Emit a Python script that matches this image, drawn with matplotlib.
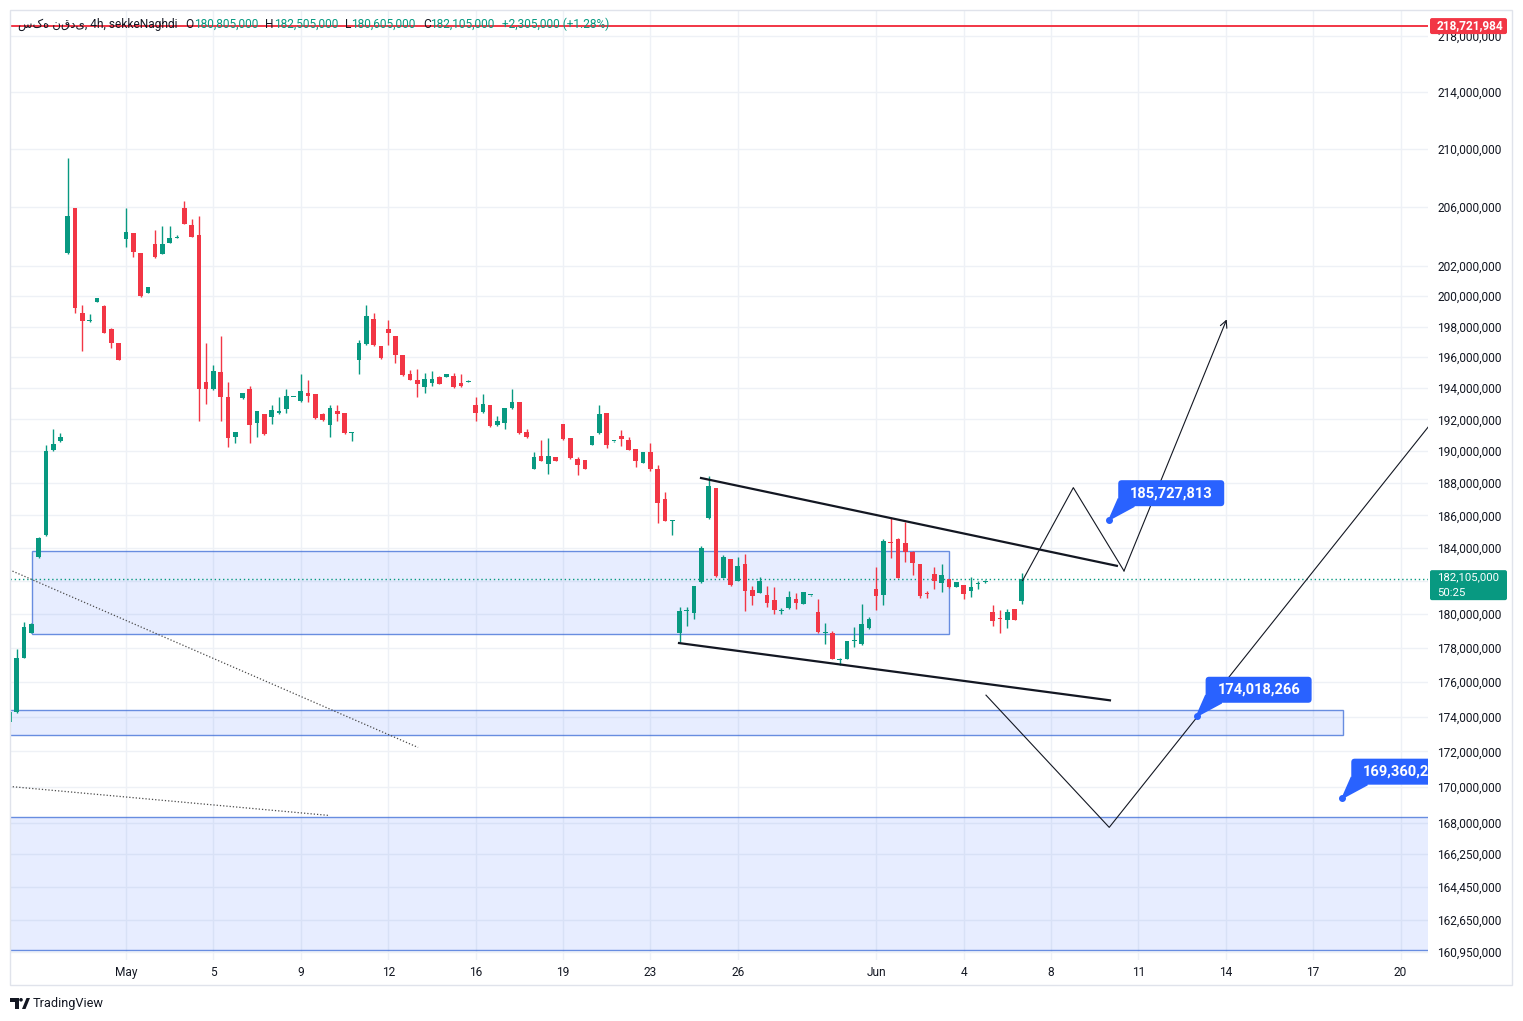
import matplotlib.pyplot as plt
import matplotlib.patches as mpatches
import matplotlib.transforms as mtransforms
from matplotlib.ticker import NullLocator
import numpy as np

plt.rcParams['font.family'] = ['Roboto', 'DejaVu Sans']

W, H = 1523, 1021
GREEN = '#089981'
RED = '#f23645'
BLUE = '#2962ff'
INK = '#131722'
PIX = mtransforms.IdentityTransform()

# 4h candles, prices in millions, bar index 0..139
opens = [173.71, 174.24, 177.41, 178.91, 183.45, 184.79, 190.06, 190.64, 202.85, 205.93,
         198.87, 198.35, 199.62, 199.37, 197.87, 196.90, 203.83, 204.24, 202.88, 200.20,
         203.49, 202.81, 203.56, 203.88, 205.93, 204.78, 204.10, 194.39, 193.94, 195.03,
         193.42, 190.88, 193.35, 193.94, 191.75, 192.32, 192.13, 192.39, 192.65, 193.40,
         193.16, 193.68, 193.61, 192.32, 191.63, 192.52, 192.39, 191.12, 195.81, 196.84,
         198.47, 196.71, 197.87, 197.35, 196.13, 194.90, 194.52, 194.06, 194.32, 194.71,
         194.71, 194.77, 194.32, 194.38, 192.90, 192.45, 192.90, 191.63, 191.75, 192.71,
         193.10, 191.19, 188.88, 189.69, 189.16, 189.63, 191.69, 190.81, 189.50, 189.44,
         190.38, 191.13, 192.39, 190.62, 190.94, 190.69, 190.13, 189.25, 189.94, 188.88,
         187.00, 185.63, 178.88, 180.17, 180.09, 181.91, 185.85, 187.69, 182.18, 183.33,
         182.00, 183.03, 181.45, 181.27, 181.15, 180.85, 180.17, 180.36, 180.94, 180.61,
         181.14, 180.12, 178.87, 178.88, 177.28, 177.35, 178.40, 178.24, 179.18, 181.50,
         181.15, 184.36, 184.55, 184.30, 183.76, 183.03, 181.22, 182.42, 181.88, 182.12,
         181.64, 181.76, 181.39, 181.81, 181.93, 180.12, 179.72, 179.65, 180.30, 180.805]
highs = [174.40, 177.94, 179.53, 179.45, 184.65, 190.41, 191.38, 191.16, 209.38, 205.95,
         199.40, 198.82, 199.90, 199.40, 197.90, 196.92, 205.93, 204.26, 202.90, 200.62,
         204.44, 204.71, 204.71, 204.10, 206.41, 205.19, 205.39, 196.90, 195.48, 197.35,
         194.39, 191.20, 193.70, 194.13, 192.55, 192.35, 192.90, 193.42, 193.94, 193.44,
         194.90, 194.52, 193.63, 192.40, 192.90, 192.90, 192.40, 191.19, 197.10, 199.40,
         198.87, 196.73, 198.40, 197.40, 196.15, 195.16, 195.23, 194.97, 195.10, 194.75,
         194.92, 195.00, 194.90, 194.52, 193.42, 193.61, 192.92, 192.19, 192.75, 193.94,
         193.12, 191.38, 189.94, 190.69, 190.81, 189.65, 191.70, 190.83, 189.63, 189.46,
         190.96, 192.90, 192.40, 190.65, 191.31, 190.90, 190.15, 189.96, 190.50, 189.13,
         187.44, 185.70, 180.42, 180.42, 181.72, 184.12, 188.44, 187.70, 183.58, 183.35,
         183.45, 183.64, 181.70, 182.24, 181.70, 181.64, 180.36, 181.40, 181.30, 181.35,
         181.17, 180.91, 179.47, 179.00, 177.40, 178.43, 179.24, 180.61, 179.82, 182.85,
         184.55, 185.82, 184.60, 185.58, 183.80, 183.05, 181.40, 182.85, 183.03, 182.14,
         181.96, 181.78, 182.24, 182.00, 182.06, 180.55, 180.24, 180.30, 180.32, 182.505]
lows = [173.20, 174.20, 177.40, 178.90, 183.40, 184.70, 190.00, 190.60, 202.80, 198.87,
        196.42, 198.33, 199.60, 197.55, 196.61, 195.82, 203.29, 202.61, 199.93, 200.18,
        202.58, 202.80, 203.55, 203.88, 204.83, 203.95, 191.88, 192.97, 193.90, 191.88,
        190.25, 190.50, 193.33, 190.50, 190.88, 191.00, 191.69, 192.37, 192.39, 193.40,
        193.14, 193.10, 192.00, 191.88, 190.88, 191.88, 191.10, 190.63, 194.90, 196.80,
        196.75, 195.90, 196.77, 195.61, 194.80, 194.50, 193.42, 193.68, 194.13, 194.24,
        194.69, 194.00, 194.10, 194.37, 191.88, 192.40, 191.50, 191.60, 191.38, 192.68,
        191.10, 190.85, 188.85, 189.35, 188.56, 189.35, 190.70, 189.50, 188.50, 188.85,
        190.35, 191.10, 190.19, 190.60, 190.31, 190.04, 189.00, 189.23, 188.75, 185.52,
        185.62, 184.79, 178.35, 179.29, 179.71, 181.90, 185.80, 182.24, 182.15, 181.70,
        181.98, 180.18, 180.55, 181.25, 180.42, 180.00, 180.00, 180.30, 180.30, 180.60,
        181.12, 178.90, 178.24, 177.33, 177.00, 177.33, 178.06, 178.20, 179.15, 180.24,
        180.55, 183.40, 182.15, 183.15, 182.36, 180.97, 180.97, 181.50, 181.33, 181.60,
        181.62, 180.91, 181.03, 181.50, 181.88, 179.29, 178.88, 179.18, 179.63, 180.605]
closes = [174.29, 177.41, 179.24, 179.41, 184.61, 190.00, 190.44, 190.90, 205.39, 199.24,
          198.37, 198.37, 199.87, 197.58, 196.90, 195.84, 204.31, 202.95, 200.00, 200.60,
          202.61, 203.49, 203.90, 203.90, 204.85, 203.97, 193.94, 193.94, 195.10, 193.42,
          190.84, 191.19, 193.68, 191.63, 192.52, 191.06, 192.58, 192.52, 193.48, 193.42,
          193.81, 193.48, 192.06, 191.99, 192.71, 192.32, 191.13, 191.13, 196.90, 198.67,
          196.77, 195.94, 197.55, 196.13, 194.84, 194.52, 194.26, 194.58, 194.58, 194.26,
          194.90, 194.06, 194.13, 194.39, 192.39, 192.97, 191.56, 191.88, 192.71, 193.10,
          191.13, 190.88, 189.63, 189.38, 189.69, 189.38, 190.75, 189.56, 189.13, 188.88,
          190.94, 192.32, 190.38, 190.63, 190.75, 190.06, 189.38, 189.94, 188.88, 186.75,
          185.64, 185.64, 180.18, 180.18, 181.70, 183.97, 187.81, 182.30, 183.45, 181.76,
          182.91, 181.42, 181.09, 182.00, 180.67, 180.24, 180.18, 181.03, 180.67, 181.33,
          181.15, 178.94, 178.88, 177.35, 177.29, 178.41, 178.41, 179.41, 179.71, 181.09,
          184.42, 184.30, 182.18, 183.76, 183.09, 181.09, 181.21, 182.00, 182.36, 181.64,
          181.94, 181.21, 181.64, 181.82, 181.94, 179.59, 179.71, 180.12, 179.65, 182.105]

date_ticks = [16, 28, 40, 52, 64, 76, 88, 100, 119, 131, 143, 155, 167, 179, 191]
date_labels = ['May', '5', '9', '12', '16', '19', '23', '26', 'Jun', '4', '8', '11', '14', '17', '20']
price_ticks = [160.95, 162.65, 164.45, 166.25, 168, 170, 172, 174, 176, 178, 180, 182,
               184, 186, 188, 190, 192, 194, 196, 198, 200, 202, 206, 210, 214, 218]

last_close = 182.105
alert_level = 218.721984

# drawings (bar index, price in millions)
upper_x, upper_p = [94.95, 152.05], [188.31, 182.91]
lower_x, lower_p = [91.93, 151.1], [178.29, 174.94]
path_up_x, path_up_p = [139.1, 146.07, 153.03, 167.13], [182.02, 187.71, 182.6, 198.47]
path_dn_x, path_dn_p = [134.08, 151.0, 194.9], [175.24, 167.73, 191.58]
trend_a_x, trend_a_p = [0.0, 56.1], [182.67, 172.23]
trend_b_x, trend_b_p = [0.0, 44.0], [170.02, 168.39]
zone_x0 = [3.09, -2, -2]
zone_x1 = [129.0, 183.1, 200]
zone_lo = [178.82, 172.97, 161.03]
zone_hi = [183.82, 174.40, 168.33]
note_x = [151.0, 163.0, 183.0]
note_p = [185.727813, 174.018266, 169.360245]
note_text = ['185,727,813', '174,018,266', '169,360,245']

fig = plt.figure(figsize=(W / 100, H / 100), dpi=100)
ax = fig.add_axes([10 / W, 1 - 960 / H, 1418 / W, 950 / H])
ax.set_yscale('log')

idx = np.arange(len(opens))
o, hi, lo, c = map(np.array, (opens, highs, lows, closes))
cols = np.where(c >= o, GREEN, RED)
ax.vlines(idx, lo, hi, colors=cols, lw=1.0, zorder=3)
bot = np.minimum(o, c)
top = np.maximum(np.maximum(o, c), bot * 1.0004)
ax.bar(idx, top - bot, bottom=bot, width=0.64, color=cols, lw=0, zorder=4)

for x0, x1, p0, p1 in zip(zone_x0, zone_x1, zone_lo, zone_hi):
    ax.add_patch(mpatches.Rectangle((x0, p0), x1 - x0, p1 - p0, fc=(0.16, 0.38, 1.0, 0.11),
                                    ec=(0.27, 0.45, 0.85, 0.8), lw=1, zorder=2))

ax.axhline(last_close, color=GREEN, lw=1, ls=(0, (1, 2)), zorder=2.5)
ax.axhline(alert_level, color=RED, lw=1.4, zorder=5)

ax.plot(upper_x, upper_p, color=INK, lw=1.6, zorder=6)
ax.plot(lower_x, lower_p, color=INK, lw=1.6, zorder=6)
ax.plot(path_up_x[:-1], path_up_p[:-1], color=INK, lw=0.8, zorder=6)
ax.annotate('', xy=(path_up_x[-1], path_up_p[-1]), xytext=(path_up_x[-2], path_up_p[-2]),
            arrowprops=dict(arrowstyle='->,head_length=0.5,head_width=0.25', color=INK,
                            lw=0.8, shrinkA=0, shrinkB=0), zorder=6)
ax.plot(path_dn_x, path_dn_p, color=INK, lw=0.8, zorder=6)
ax.plot(trend_a_x, trend_a_p, color='#4a4a4a', lw=0.9, ls=(0, (1, 1.6)), zorder=6)
ax.plot(trend_b_x, trend_b_p, color='#4a4a4a', lw=0.9, ls=(0, (1, 1.6)), zorder=6)

ax.set_xlim(0.07, 194.77)
ax.set_ylim(160.52, 219.89)

ax.set_xticks(date_ticks)
ax.set_xticklabels(date_labels)
ax.yaxis.tick_right()
ax.set_yticks(price_ticks)
# the 182M label sits under the last-price tag, so it is left blank
ax.set_yticklabels(['' if v == 182 else f'{v * 1e6:,.0f}' for v in price_ticks])
ax.yaxis.set_minor_locator(NullLocator())
ax.xaxis.set_minor_locator(NullLocator())
ax.tick_params(length=0, labelsize=8.6, labelcolor=INK)
ax.tick_params(axis='x', pad=4.5)
ax.tick_params(axis='y', pad=6.5)
ax.grid(True, color='#eef1f6', lw=1)
ax.set_axisbelow(True)
for s in ax.spines.values():
    s.set_visible(False)

# price notes with pointer
for xi, pv, txt in zip(note_x, note_p, note_text):
    dx, dy = ax.transData.transform((xi, pv))
    bx, by = dx + 9, dy + 13.5
    ax.add_patch(mpatches.FancyBboxPatch((bx, by), 106, 26, boxstyle='round,pad=0,rounding_size=3.5',
                                         fc=BLUE, ec='none', transform=PIX, zorder=8))
    ax.add_patch(mpatches.Polygon([(dx, dy), (bx, by + 7), (bx + 16, by)], closed=True,
                                  fc=BLUE, ec=BLUE, lw=1.2, transform=PIX, zorder=8))
    ax.plot(xi, pv, 'o', ms=4, color=BLUE, zorder=9)
    ax.text(bx + 12, by + 13, txt, transform=PIX, color='white', fontsize=10.5,
            fontweight='bold', va='center', ha='left', zorder=9, clip_on=True)

# right scale labels
ya = ax.transData.transform((0, alert_level))[1]
fig.add_artist(mpatches.FancyBboxPatch((1430, ya - 8), 77, 16, boxstyle='round,pad=0,rounding_size=2',
                                       fc=RED, ec='none', transform=PIX, zorder=10))
fig.text(1437, ya, '218,721,984', transform=PIX, color='white', fontsize=8.6,
         fontweight='bold', va='center', ha='left', zorder=11)
yc = ax.transData.transform((0, last_close))[1]
fig.add_artist(mpatches.FancyBboxPatch((1430, yc - 21), 77, 30, boxstyle='round,pad=0,rounding_size=2',
                                       fc=GREEN, ec='none', transform=PIX, zorder=10))
fig.text(1437, yc + 1.5, '182,105,000', transform=PIX, color='white', fontsize=8.2,
         va='center', ha='left', zorder=11)
fig.text(1437, yc - 13.5, '50:25', transform=PIX, color='white', fontsize=8.2,
         va='center', ha='left', zorder=11)

# header legend, pieces laid out one after another
renderer = fig.canvas.get_renderer()
ty = H - 24
header = [('سکه نقدی, 4h, sekkeNaghdi', INK, 8), ('O', INK, 0), ('180,805,000', GREEN, 7),
          ('H', INK, 0), ('182,505,000', GREEN, 7), ('L', INK, 0), ('180,605,000', GREEN, 7),
          ('C', INK, 0), ('182,105,000', GREEN, 7), ('+2,305,000 (+1.28%)', GREEN, 0)]
hx = 18
for s, col, gap in header:
    t = fig.text(hx, ty, s, transform=PIX, color=col, fontsize=8.6, va='center')
    hx += t.get_window_extent(renderer).width + gap

# frame
fig.add_artist(mpatches.Rectangle((10, H - 985), 1502, 975, fill=False, ec='#e0e3eb', lw=1, transform=PIX))

# footer logo
fig.add_artist(mpatches.Rectangle((10, H - 1001.5), 8.5, 3.5, fc=INK, ec='none', transform=PIX))
fig.add_artist(mpatches.Rectangle((14.5, H - 1009), 4, 11, fc=INK, ec='none', transform=PIX))
fig.add_artist(mpatches.Circle((21, H - 999.8), 1.8, fc=INK, ec='none', transform=PIX))
fig.add_artist(mpatches.Polygon([(22, H - 1009), (25.5, H - 1009), (30, H - 998), (26.5, H - 998)],
                                closed=True, fc=INK, ec='none', transform=PIX))
fig.text(33, H - 1003, 'TradingView', transform=PIX, color=INK, fontsize=9.2, va='center')

fig.savefig('out.png', dpi=100)
